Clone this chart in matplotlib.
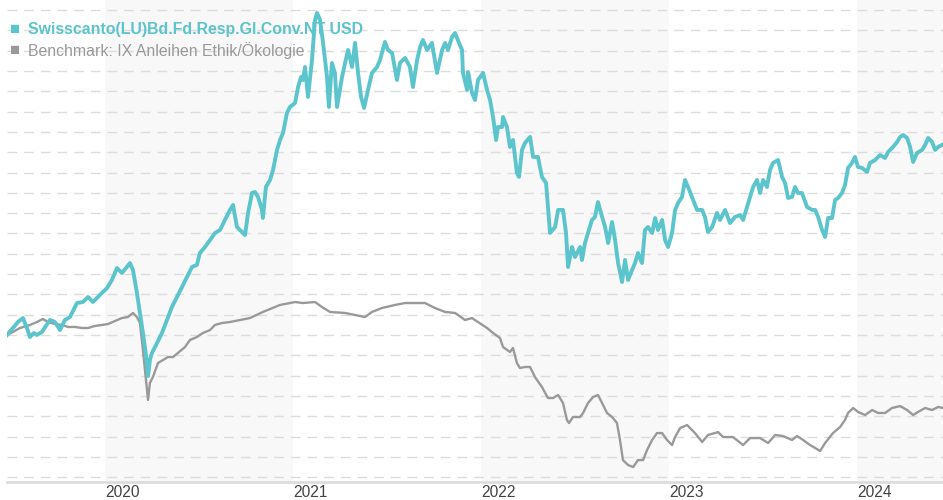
import numpy as np
import matplotlib
matplotlib.use('Agg')
import matplotlib.pyplot as plt

plt.rcParams['font.family'] = ['Liberation Sans', 'DejaVu Sans']

# Fund (indexed, start = 100), time in decimal years
fund_t = [2019.479, 2019.511, 2019.537, 2019.564, 2019.585, 2019.601, 2019.622, 2019.638, 2019.665, 2019.686,
          2019.707, 2019.734, 2019.761, 2019.787, 2019.814, 2019.851, 2019.883, 2019.910, 2019.936, 2019.973,
          2020.011, 2020.037, 2020.064, 2020.090, 2020.112, 2020.133, 2020.149, 2020.170, 2020.186, 2020.202,
          2020.218, 2020.229, 2020.239, 2020.250, 2020.277, 2020.303, 2020.330, 2020.356, 2020.383, 2020.410,
          2020.436, 2020.463, 2020.489, 2020.505, 2020.532, 2020.559, 2020.585, 2020.612, 2020.638, 2020.665,
          2020.681, 2020.702, 2020.718, 2020.745, 2020.761, 2020.782, 2020.798, 2020.814, 2020.835, 2020.840,
          2020.856, 2020.878, 2020.894, 2020.915, 2020.931, 2020.947, 2020.968, 2020.984, 2021.011, 2021.027,
          2021.043, 2021.053, 2021.064, 2021.080, 2021.101, 2021.117, 2021.128, 2021.144, 2021.160, 2021.181,
          2021.191, 2021.207, 2021.223, 2021.234, 2021.261, 2021.277, 2021.293, 2021.314, 2021.330, 2021.346,
          2021.362, 2021.378, 2021.399, 2021.420, 2021.447, 2021.463, 2021.489, 2021.505, 2021.527, 2021.553,
          2021.569, 2021.596, 2021.622, 2021.638, 2021.660, 2021.676, 2021.691, 2021.713, 2021.739, 2021.766,
          2021.793, 2021.809, 2021.824, 2021.846, 2021.862, 2021.883, 2021.899, 2021.904, 2021.926, 2021.931,
          2021.952, 2021.968, 2021.984, 2022.011, 2022.032, 2022.048, 2022.064, 2022.080, 2022.090, 2022.112,
          2022.117, 2022.138, 2022.154, 2022.170, 2022.191, 2022.202, 2022.218, 2022.234, 2022.261, 2022.277,
          2022.303, 2022.324, 2022.346, 2022.356, 2022.367, 2022.394, 2022.410, 2022.436, 2022.452, 2022.463,
          2022.484, 2022.500, 2022.527, 2022.537, 2022.553, 2022.569, 2022.590, 2022.606, 2022.622, 2022.644,
          2022.660, 2022.676, 2022.697, 2022.713, 2022.729, 2022.750, 2022.766, 2022.782, 2022.803, 2022.819,
          2022.835, 2022.856, 2022.872, 2022.888, 2022.910, 2022.926, 2022.941, 2022.963, 2022.979, 2022.995,
          2023.016, 2023.032, 2023.048, 2023.069, 2023.085, 2023.101, 2023.128, 2023.149, 2023.176, 2023.191,
          2023.207, 2023.229, 2023.255, 2023.271, 2023.298, 2023.324, 2023.351, 2023.378, 2023.394, 2023.415,
          2023.431, 2023.447, 2023.468, 2023.484, 2023.500, 2023.521, 2023.537, 2023.553, 2023.580, 2023.601,
          2023.617, 2023.633, 2023.654, 2023.670, 2023.686, 2023.707, 2023.734, 2023.761, 2023.777, 2023.793,
          2023.814, 2023.830, 2023.846, 2023.867, 2023.883, 2023.899, 2023.920, 2023.936, 2023.952, 2023.973,
          2023.989, 2024.005, 2024.027, 2024.053, 2024.069, 2024.096, 2024.122, 2024.149, 2024.165, 2024.191,
          2024.213, 2024.229, 2024.245, 2024.266, 2024.282, 2024.298, 2024.319, 2024.346, 2024.362, 2024.378,
          2024.399, 2024.415, 2024.431, 2024.452]
fund_v = [100.0, 100.69, 101.28, 101.67, 100.69, 99.80, 100.20, 100.0, 100.30, 100.89,
          101.48, 101.28, 100.49, 101.48, 101.77, 103.15, 103.25, 103.74, 103.25, 103.94,
          104.63, 105.42, 106.60, 106.11, 106.60, 107.09, 106.40, 104.14, 102.17, 100.20,
          98.03, 95.96, 97.54, 98.23, 99.21, 100.20, 101.48, 102.76, 103.74, 104.73,
          105.71, 106.70, 106.90, 108.08, 108.67, 109.36, 110.05, 110.34, 111.33, 112.32,
          112.81, 110.64, 110.34, 109.85, 112.02, 113.99, 114.09, 113.60, 112.32, 111.53,
          114.58, 115.27, 116.26, 118.23, 119.21, 119.90, 121.87, 122.46, 122.86, 124.43,
          125.42, 125.12, 126.40, 123.45, 127.09, 131.03, 131.72, 131.03, 128.77, 125.42,
          122.46, 126.80, 125.81, 122.46, 125.42, 126.80, 128.08, 126.40, 128.77, 125.81,
          123.45, 122.36, 124.14, 125.81, 126.40, 127.09, 128.87, 128.08, 127.78, 125.12,
          126.80, 127.29, 126.40, 124.43, 127.09, 128.37, 129.06, 128.08, 128.77, 125.81,
          128.08, 128.77, 128.08, 129.36, 129.75, 128.77, 128.08, 125.81, 124.14, 125.91,
          123.84, 123.15, 125.12, 125.81, 124.14, 123.15, 121.48, 119.21, 120.49, 120.49,
          121.48, 120.49, 118.52, 119.21, 115.96, 115.57, 118.23, 118.92, 119.51, 117.54,
          117.54, 115.57, 114.98, 112.61, 110.05, 110.64, 112.32, 112.32, 110.05, 106.70,
          108.67, 107.68, 108.67, 107.39, 109.06, 110.05, 111.33, 111.63, 113.10, 111.63,
          110.64, 109.06, 111.13, 109.36, 107.09, 105.22, 107.39, 105.42, 106.40, 107.09,
          108.08, 107.09, 110.34, 110.64, 110.05, 111.53, 110.34, 111.33, 109.36, 108.67,
          110.05, 112.32, 113.00, 113.60, 115.27, 114.58, 113.30, 112.32, 112.32, 111.63,
          110.15, 110.64, 112.02, 111.33, 112.32, 111.03, 111.63, 111.82, 111.33, 112.61,
          113.60, 114.58, 115.27, 113.99, 115.27, 114.58, 116.26, 116.95, 117.24, 115.57,
          114.98, 113.50, 113.60, 114.58, 113.99, 113.99, 112.61, 112.32, 112.32, 111.63,
          110.34, 109.66, 111.53, 111.53, 113.30, 113.50, 113.99, 114.78, 116.45, 116.95,
          117.54, 116.55, 116.45, 116.06, 116.95, 117.24, 117.73, 117.44, 118.03, 118.52,
          119.01, 119.51, 119.70, 119.41, 118.52, 117.04, 117.93, 118.23, 118.72, 119.41,
          119.01, 118.23, 118.52, 118.72]

# Benchmark (indexed, start = 100)
bench_t = [2019.479, 2019.511, 2019.548, 2019.601, 2019.638, 2019.670, 2019.697, 2019.734, 2019.771, 2019.803,
           2019.840, 2019.878, 2019.910, 2019.947, 2019.984, 2020.016, 2020.053, 2020.090, 2020.122, 2020.149,
           2020.170, 2020.186, 2020.202, 2020.218, 2020.229, 2020.239, 2020.255, 2020.282, 2020.309, 2020.335,
           2020.362, 2020.388, 2020.426, 2020.452, 2020.489, 2020.521, 2020.559, 2020.585, 2020.622, 2020.665,
           2020.718, 2020.771, 2020.840, 2020.931, 2021.011, 2021.053, 2021.117, 2021.154, 2021.197, 2021.277,
           2021.330, 2021.383, 2021.420, 2021.473, 2021.543, 2021.596, 2021.649, 2021.702, 2021.755, 2021.809,
           2021.862, 2021.915, 2021.952, 2021.984, 2022.032, 2022.064, 2022.101, 2022.117, 2022.154, 2022.170,
           2022.191, 2022.207, 2022.234, 2022.261, 2022.287, 2022.324, 2022.356, 2022.383, 2022.410, 2022.436,
           2022.457, 2022.468, 2022.489, 2022.527, 2022.543, 2022.569, 2022.596, 2022.622, 2022.644, 2022.670,
           2022.697, 2022.723, 2022.739, 2022.755, 2022.782, 2022.809, 2022.835, 2022.862, 2022.883, 2022.910,
           2022.936, 2022.963, 2022.989, 2023.016, 2023.032, 2023.059, 2023.096, 2023.122, 2023.138, 2023.176,
           2023.207, 2023.261, 2023.287, 2023.340, 2023.394, 2023.431, 2023.484, 2023.527, 2023.564, 2023.606,
           2023.654, 2023.681, 2023.713, 2023.750, 2023.777, 2023.803, 2023.830, 2023.872, 2023.910, 2023.936,
           2023.952, 2023.979, 2024.005, 2024.043, 2024.080, 2024.112, 2024.149, 2024.186, 2024.229, 2024.266,
           2024.298, 2024.324, 2024.362, 2024.399, 2024.431, 2024.457]
bench_v = [100.0, 100.30, 100.69, 100.99, 101.28, 101.58, 101.28, 101.08, 100.99, 100.79,
           100.79, 100.69, 100.69, 100.89, 100.99, 101.08, 101.38, 101.67, 101.77, 102.17,
           101.77, 101.18, 98.52, 95.57, 93.60, 95.27, 95.86, 97.24, 97.54, 97.83,
           97.83, 98.23, 98.82, 99.51, 99.80, 100.20, 100.49, 100.99, 101.18, 101.28,
           101.48, 101.67, 102.27, 102.96, 103.25, 103.15, 103.25, 102.76, 102.27, 102.17,
           101.97, 101.77, 102.27, 102.66, 102.96, 103.15, 103.15, 103.15, 102.66, 102.27,
           102.17, 101.48, 101.67, 101.28, 100.69, 100.20, 99.70, 98.82, 98.33, 98.72,
           97.24, 96.75, 96.85, 96.85, 95.86, 94.88, 93.79, 93.79, 94.09, 93.30,
           91.63, 91.33, 91.92, 91.92, 92.32, 93.30, 93.89, 94.09, 93.30, 92.32,
           91.92, 91.33, 89.66, 87.68, 87.19, 86.99, 87.68, 87.68, 88.67, 89.66,
           90.34, 90.34, 89.66, 89.16, 89.95, 90.84, 91.13, 90.64, 90.34, 89.46,
           90.15, 90.44, 89.95, 89.95, 89.16, 89.85, 89.85, 89.36, 90.15, 90.05,
           89.66, 90.05, 89.66, 89.16, 88.87, 88.57, 89.36, 90.34, 90.94, 91.63,
           92.32, 92.81, 92.42, 92.12, 92.61, 92.32, 92.32, 92.81, 93.00, 92.61,
           92.12, 92.42, 92.81, 92.61, 92.91, 92.81]

years = [2020, 2021, 2022, 2023, 2024]
shaded_years = [2020, 2022, 2024]
fund_name = 'Swisscanto(LU)Bd.Fd.Resp.Gl.Conv.NT USD'
bench_name = 'Benchmark: IX Anleihen Ethik/Ökologie'

teal = '#5bc4cc'
grey = '#999999'

fig = plt.figure(figsize=(9.43, 5.0), dpi=100)
ax = fig.add_axes([7 / 943, 18 / 500, 936 / 943, 482 / 500])

# abwechselnd schattierte Jahre
for y in shaded_years:
    ax.axvspan(y, y + 1, color='#f8f8f8', zorder=0, lw=0)

# gestrichelte Hilfslinien
for g in np.arange(86, 133, 2):
    ax.axhline(g, color='#dcdcdc', lw=1, ls=(0, (7, 5)), zorder=0.5)

ax.plot(bench_t, bench_v, color=grey, lw=1.7, zorder=2)
ax.plot(fund_t, fund_v, color=teal, lw=2.8, zorder=3)

ax.set_xlim(2019.479, 2024.457)
ax.set_ylim(85.52, 133.0)

for s in ['top', 'right', 'left']:
    ax.spines[s].set_visible(False)
ax.spines['bottom'].set_color('#dddddd')
ax.spines['bottom'].set_linewidth(2)
ax.set_yticks([])
ax.set_xticks(years)
ax.set_xticklabels([str(y) for y in years], ha='left', fontsize=11.2, color='#444444')
ax.tick_params(axis='x', length=0, pad=2)

# Legende als Text mit Quadraten
ax.text(0.003, 0.938, '■', transform=ax.transAxes, color=teal, fontsize=12, va='center', zorder=1.5)
ax.text(0.022, 0.938, fund_name, transform=ax.transAxes, color=teal, fontsize=11.4,
        fontweight='bold', va='center', zorder=1.5)
ax.text(0.003, 0.896, '■', transform=ax.transAxes, color=grey, fontsize=12, va='center', zorder=1.5)
ax.text(0.022, 0.896, bench_name, transform=ax.transAxes, color=grey, fontsize=11.4,
        va='center', zorder=1.5)

fig.savefig('out.png', dpi=100)
